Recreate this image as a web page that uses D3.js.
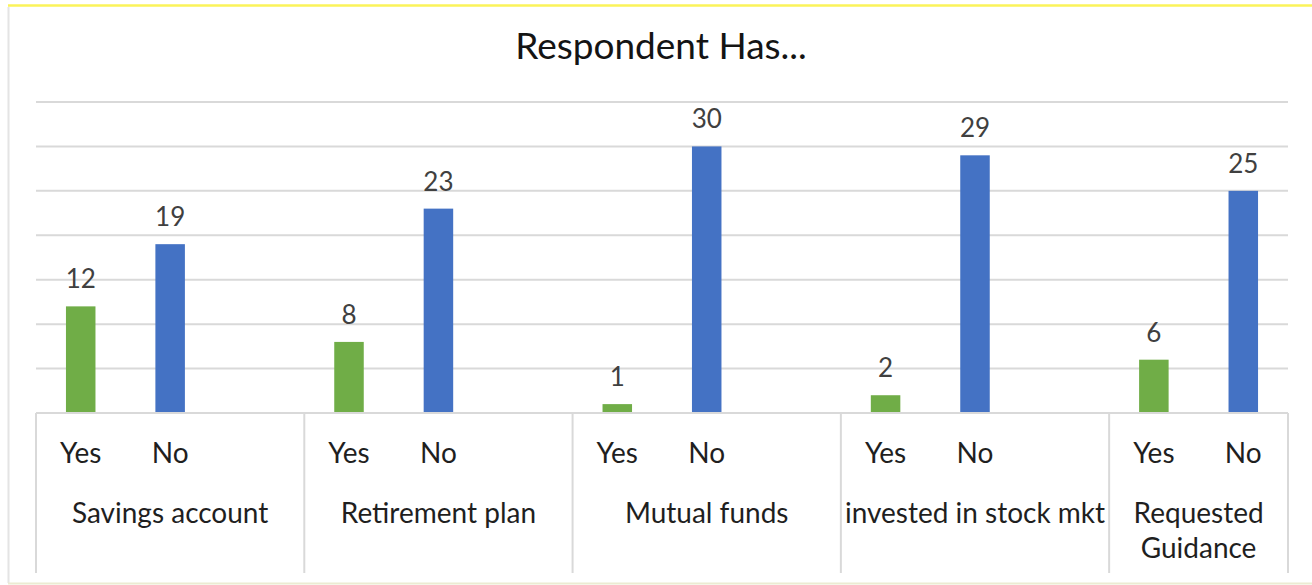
<!DOCTYPE html>
<html>
<head>
<meta charset="utf-8">
<script src="https://cdn.jsdelivr.net/npm/d3@7"></script>
<style>
  html, body { margin: 0; padding: 0; background: #fff; }
  svg { display: block; }
  text { font-family: Lato, "Open Sans", sans-serif; }
</style>
</head>
<body>
<svg id="chart" width="1312" height="585"></svg>
<script>
const title = "Respondent Has...";
const categories = ["Savings account", "Retirement plan", "Mutual funds", "invested in stock mkt", "Requested Guidance"];
const subLabels = ["Yes", "No"];
const yesValues = [12, 8, 1, 2, 6];
const noValues = [19, 23, 30, 29, 25];
const yTicks = [0, 5, 10, 15, 20, 25, 30, 35];

const W = 1312, H = 585;
const plot = { left: 36, right: 1288, top: 102, bottom: 413 };
const colors = { Yes: "#70AD47", No: "#4472C4" };

const svg = d3.select("#chart");

// build leaves (Yes, No, blank spacer between groups)
const leaves = [];
categories.forEach((c, i) => {
  leaves.push({ key: c + "|Yes", cat: c, sub: "Yes", value: yesValues[i] });
  leaves.push({ key: c + "|No", cat: c, sub: "No", value: noValues[i] });
  if (i < categories.length - 1) leaves.push({ key: c + "|_", cat: c, sub: null, value: null });
});

const x = d3.scaleBand().domain(leaves.map(d => d.key)).range([plot.left, plot.right]).padding(0);
const y = d3.scaleLinear().domain([0, 35]).range([plot.bottom, plot.top]);

// frame
svg.append("line").attr("x1", 8).attr("x2", W).attr("y1", 5.5).attr("y2", 5.5)
  .attr("stroke", "#fbf35a").attr("stroke-width", 2.5);
svg.append("line").attr("x1", 8.5).attr("x2", 8.5).attr("y1", 7).attr("y2", 583)
  .attr("stroke", "#e4e4e4").attr("stroke-width", 2);
svg.append("line").attr("x1", 8).attr("x2", W).attr("y1", 583.5).attr("y2", 583.5)
  .attr("stroke", "#ecebd2").attr("stroke-width", 2);

// title
svg.append("text").attr("x", 661).attr("y", 59).attr("text-anchor", "middle")
  .attr("font-size", 37).attr("fill", "#141414").text(title);

// gridlines
svg.append("g").selectAll("line").data(yTicks.filter(t => t > 0)).join("line")
  .attr("x1", plot.left).attr("x2", plot.right)
  .attr("y1", d => y(d)).attr("y2", d => y(d))
  .attr("stroke", "#d9d9d9").attr("stroke-width", 2);

// bars
const barW = x.bandwidth() * 0.33;
const bars = leaves.filter(d => d.sub);
svg.append("g").selectAll("rect").data(bars).join("rect")
  .attr("x", d => x(d.key) + (x.bandwidth() - barW) / 2)
  .attr("width", barW)
  .attr("y", d => y(d.value))
  .attr("height", d => y(0) - y(d.value))
  .attr("fill", d => colors[d.sub]);

// data labels
svg.append("g").selectAll("text").data(bars).join("text")
  .attr("x", d => x(d.key) + x.bandwidth() / 2)
  .attr("y", d => y(d.value) - 18)
  .attr("text-anchor", "middle").attr("font-size", 26).attr("fill", "#404040")
  .text(d => d.value);

// axis baseline
svg.append("line").attr("x1", plot.left).attr("x2", plot.right)
  .attr("y1", plot.bottom).attr("y2", plot.bottom)
  .attr("stroke", "#d9d9d9").attr("stroke-width", 2);

// group separators
const groupBounds = categories.map(c => {
  const ls = leaves.filter(l => l.cat === c);
  return { cat: c, x0: x(ls[0].key), x1: x(ls[ls.length - 1].key) + x.bandwidth() };
});
const sepX = groupBounds.map(g => g.x0).concat([plot.right]);
svg.append("g").selectAll("line").data(sepX).join("line")
  .attr("x1", d => d).attr("x2", d => d)
  .attr("y1", plot.bottom).attr("y2", 573)
  .attr("stroke", "#d9d9d9").attr("stroke-width", 2);

// sub labels
svg.append("g").selectAll("text").data(bars).join("text")
  .attr("x", d => x(d.key) + x.bandwidth() / 2)
  .attr("y", 463)
  .attr("text-anchor", "middle").attr("font-size", 28).attr("fill", "#1f1f1f")
  .text(d => d.sub);

// group labels (wrapped when too wide)
const gl = svg.append("g");
groupBounds.forEach(g => {
  const cx = (g.x0 + g.x1) / 2;
  const t = gl.append("text").attr("x", cx).attr("y", 523)
    .attr("text-anchor", "middle").attr("font-size", 28).attr("fill", "#1f1f1f");
  t.text(g.cat);
  const maxW = g.x1 - g.x0 - 2;
  if (t.node().getComputedTextLength() > maxW) {
    t.text(null);
    const words = g.cat.split(" ");
    let line = [], lines = [];
    const probe = gl.append("text").attr("font-size", 28);
    words.forEach(w => {
      const trial = line.concat([w]).join(" ");
      probe.text(trial);
      if (probe.node().getComputedTextLength() > maxW && line.length) {
        lines.push(line.join(" "));
        line = [w];
      } else line.push(w);
    });
    lines.push(line.join(" "));
    probe.remove();
    lines.forEach((ln, i) => {
      t.append("tspan").attr("x", cx).attr("dy", i === 0 ? 0 : 35).text(ln);
    });
  }
});
</script>
</body>
</html>
